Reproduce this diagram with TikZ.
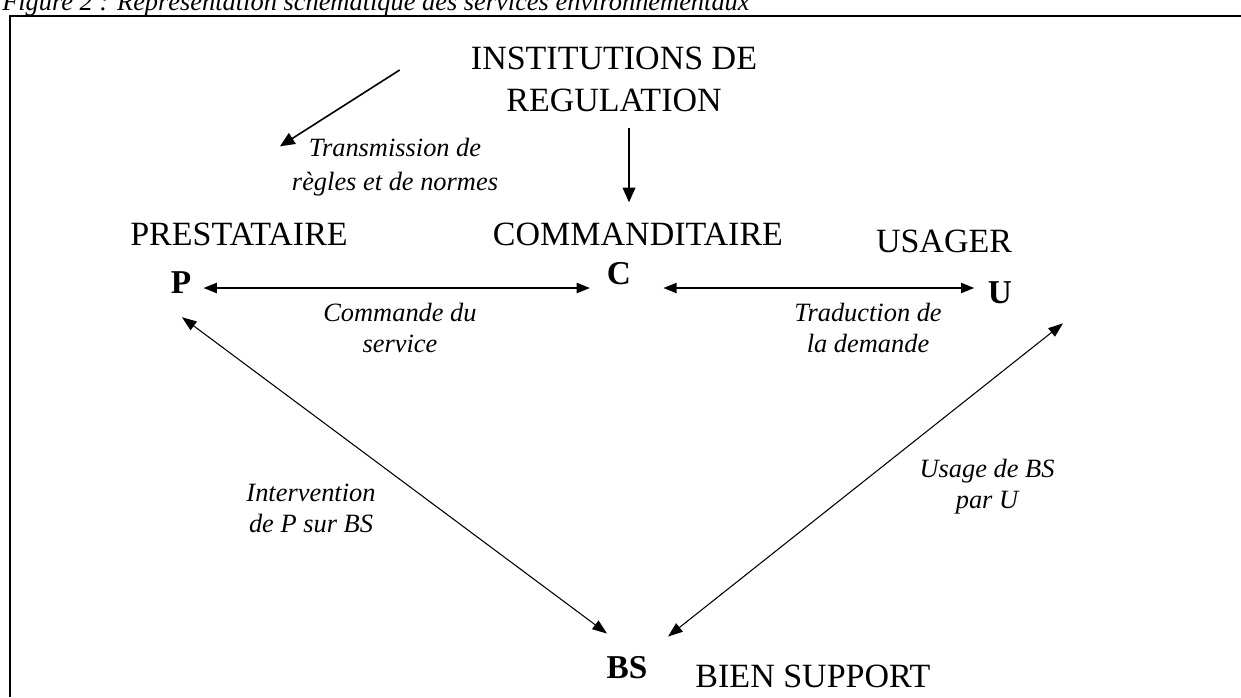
\documentclass[tikz,border=0pt]{standalone}
\usepackage{fontspec}
\setmainfont{Liberation Serif}
\usetikzlibrary{arrows.meta,positioning}

\begin{document}
\begin{tikzpicture}[x=0.75pt,y=-0.75pt]
    \tikzstyle{actor} = [font=\fontsize{25.5}{31.5}\selectfont, inner sep=0pt,
        align=center]
    \tikzstyle{letter} = [font=\fontsize{25}{30}\selectfont\bfseries, inner sep=0pt]
    \tikzstyle{note} = [font=\fontsize{19.8}{23.3}\selectfont\itshape, inner sep=0pt,
        align=center]
    \tikzstyle{link} = [draw, line width=1.6pt,
        {Triangle[length=10pt,width=7.5pt]}-{Triangle[length=10pt,width=7.5pt]}]
    \tikzstyle{thinlink} = [draw, line width=0.8pt,
        {Triangle[length=11pt,width=8pt]}-{Triangle[length=11pt,width=8pt]}]
    \tikzstyle{oneway} = [draw, line width=1.2pt, -{Triangle[length=11pt,width=9.5pt]}]

    \useasboundingbox (0,0) rectangle (1241,697);

    % Caption and frame
    \node[note, anchor=base west] (caption) at (2,10) {Figure 2 : Représentation
        schématique des services environnementaux};
    \draw[line width=1.5pt] (10,697) -- (10,16) -- (1241,16);

    % Regulation
    \node[actor] (inst) at (614,79) {INSTITUTIONS DE\\REGULATION};
    \node[note, font=\fontsize{19.8}{25.5}\selectfont\itshape] (transmission)
        at (395,167) {Transmission de\\règles et de normes};

    % Actors
    \node[actor] (pres) at (239,234) {PRESTATAIRE};
    \node[letter] (P) at (181,283) {P};
    \node[actor] (comm) at (638,234) {COMMANDITAIRE};
    \node[letter] (C) at (619,274) {C};
    \node[actor] (usager) at (944,241) {USAGER};
    \node[letter] (U) at (1000,293) {U};
    \node[letter] (BS) at (627,668) {BS};
    \node[actor] (bien) at (813,676) {BIEN SUPPORT};

    % Relations
    \node[note] (commande) at (400,328) {Commande du\\service};
    \node[note] (traduction) at (868,328) {Traduction de\\la demande};
    \node[note] (intervention) at (311,508) {Intervention\\de P sur BS};
    \node[note] (usage) at (987,487) {Usage de BS\\par U};

    \coordinate (axis) at (0,288);
    \draw[oneway] ([shift={(-71,-9)}]inst.west) -- ([shift={(41,-76)}]pres.north);
    \draw[oneway] ([shift={(15,16)}]inst.south) -- ([shift={(-9,-20)}]comm.north);
    \draw[link, shorten <=9pt, shorten >=12.5pt] (P.east |- axis) -- (C.west |- axis);
    \draw[link, shorten <=24pt, shorten >=10pt] (C.east |- axis) -- (U.west |- axis);
    \draw[thinlink] ([shift={(1,23)}]P.south) -- ([shift={(-20,-23)}]BS.north);
    \draw[thinlink] ([shift={(63,19)}]U.south) -- ([shift={(41,-20)}]BS.north);
\end{tikzpicture}
\end{document}
